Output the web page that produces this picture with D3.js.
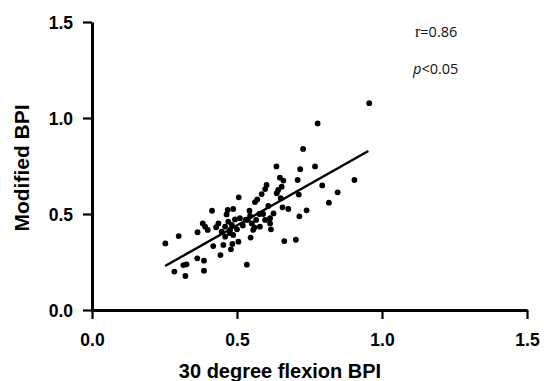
<!DOCTYPE html>
<html>
<head>
<meta charset="utf-8">
<script src="https://cdn.jsdelivr.net/npm/d3@7"></script>
<style>
body { margin: 0; background: #fff; }
svg { display: block; }
</style>
</head>
<body>
<svg id="chart" width="544" height="381"></svg>
<script>
const xVals = [0.956,0.778,0.728,0.636,0.769,0.718,0.905,0.709,0.648,0.660,0.794,0.602,0.597,0.654,0.642,0.847,0.713,0.585,0.637,0.506,0.570,0.562,0.817,0.651,0.608,0.657,0.677,0.740,0.715,0.626,0.414,0.468,0.487,0.543,0.614,0.464,0.510,0.545,0.577,0.382,0.390,0.364,0.436,0.428,0.459,0.482,0.493,0.537,0.551,0.566,0.614,0.597,0.399,0.447,0.476,0.487,0.556,0.579,0.617,0.299,0.253,0.459,0.505,0.547,0.484,0.418,0.453,0.479,0.663,0.703,0.443,0.363,0.386,0.326,0.315,0.284,0.386,0.322,0.534,0.470,0.520,0.530,0.560,0.590,0.500,0.475];
const yVals = [1.077,0.972,0.839,0.748,0.748,0.733,0.677,0.677,0.689,0.674,0.649,0.651,0.630,0.642,0.625,0.613,0.601,0.604,0.608,0.587,0.576,0.562,0.559,0.582,0.542,0.535,0.526,0.519,0.488,0.503,0.517,0.521,0.526,0.517,0.478,0.498,0.478,0.490,0.500,0.451,0.434,0.405,0.451,0.431,0.434,0.443,0.472,0.469,0.451,0.469,0.451,0.469,0.417,0.408,0.417,0.391,0.417,0.434,0.420,0.385,0.347,0.382,0.356,0.377,0.344,0.333,0.339,0.316,0.359,0.366,0.286,0.269,0.257,0.238,0.234,0.200,0.205,0.177,0.236,0.460,0.440,0.470,0.430,0.500,0.420,0.400];
const fitX = [0.252, 0.953];
const fitY = [0.229, 0.828];
const xTicks = [0.0, 0.5, 1.0, 1.5];
const yTicks = [0.0, 0.5, 1.0, 1.5];
const xTitle = "30 degree flexion BPI";
const yTitle = "Modified BPI";

const svg = d3.select("#chart");
const x = d3.scaleLinear().domain([0, 1.5]).range([92, 527]);
const y = d3.scaleLinear().domain([0, 1.5]).range([310, 22]);

// axes
const xAxis = svg.append("g").attr("transform", "translate(0,310)")
  .call(d3.axisBottom(x).tickValues(xTicks).tickFormat(d3.format(".1f")).tickSize(9).tickSizeOuter(0));
const yAxis = svg.append("g").attr("transform", "translate(92,0)")
  .call(d3.axisLeft(y).tickValues(yTicks).tickFormat(d3.format(".1f")).tickSize(9).tickSizeOuter(0));
[xAxis, yAxis].forEach(g => {
  g.select(".domain").attr("stroke", "#000").attr("stroke-width", 3);
  g.selectAll(".tick line").attr("stroke", "#000").attr("stroke-width", 2.2);
  g.selectAll(".tick text").attr("fill", "#000")
    .style("font-family", "'Liberation Sans', Arial, sans-serif")
    .style("font-weight", "bold").style("font-size", "17.5px");
});
xAxis.selectAll(".tick text").attr("dy", null).attr("y", 36);
yAxis.selectAll(".tick text").attr("x", -19).attr("dy", "0.36em");

// titles
svg.append("text").attr("x", 280).attr("y", 378).attr("text-anchor", "middle")
  .style("font-family", "'Liberation Sans', Arial, sans-serif").style("font-weight", "bold")
  .style("font-size", "20px").text(xTitle);
svg.append("text").attr("transform", "translate(29,168) rotate(-90)").attr("text-anchor", "middle")
  .style("font-family", "'Liberation Sans', Arial, sans-serif").style("font-weight", "bold")
  .style("font-size", "21px").text(yTitle);

// fit line
svg.append("line")
  .attr("x1", x(fitX[0])).attr("y1", y(fitY[0]))
  .attr("x2", x(fitX[1])).attr("y2", y(fitY[1]))
  .attr("stroke", "#000").attr("stroke-width", 2.4);

// points
svg.append("g").selectAll("circle").data(xVals.map((v, i) => [v, yVals[i]]))
  .join("circle").attr("cx", d => x(d[0])).attr("cy", d => y(d[1]))
  .attr("r", 2.9).attr("fill", "#000");

// stats
const t1 = svg.append("text").attr("x", 415).attr("y", 37)
  .style("font-family", "'Open Sans', 'Noto Sans', sans-serif").style("font-size", "14.5px").attr("fill", "#111");
t1.append("tspan").style("font-family", "'Liberation Serif', serif").style("font-size", "16px").text("r");
t1.append("tspan").text("=0.86");
const t2 = svg.append("text").attr("x", 413).attr("y", 74)
  .style("font-family", "'Open Sans', 'Noto Sans', sans-serif").style("font-size", "14.5px").attr("fill", "#111");
t2.append("tspan").style("font-style", "italic").text("p");
t2.append("tspan").text("<0.05");
</script>
</body>
</html>
